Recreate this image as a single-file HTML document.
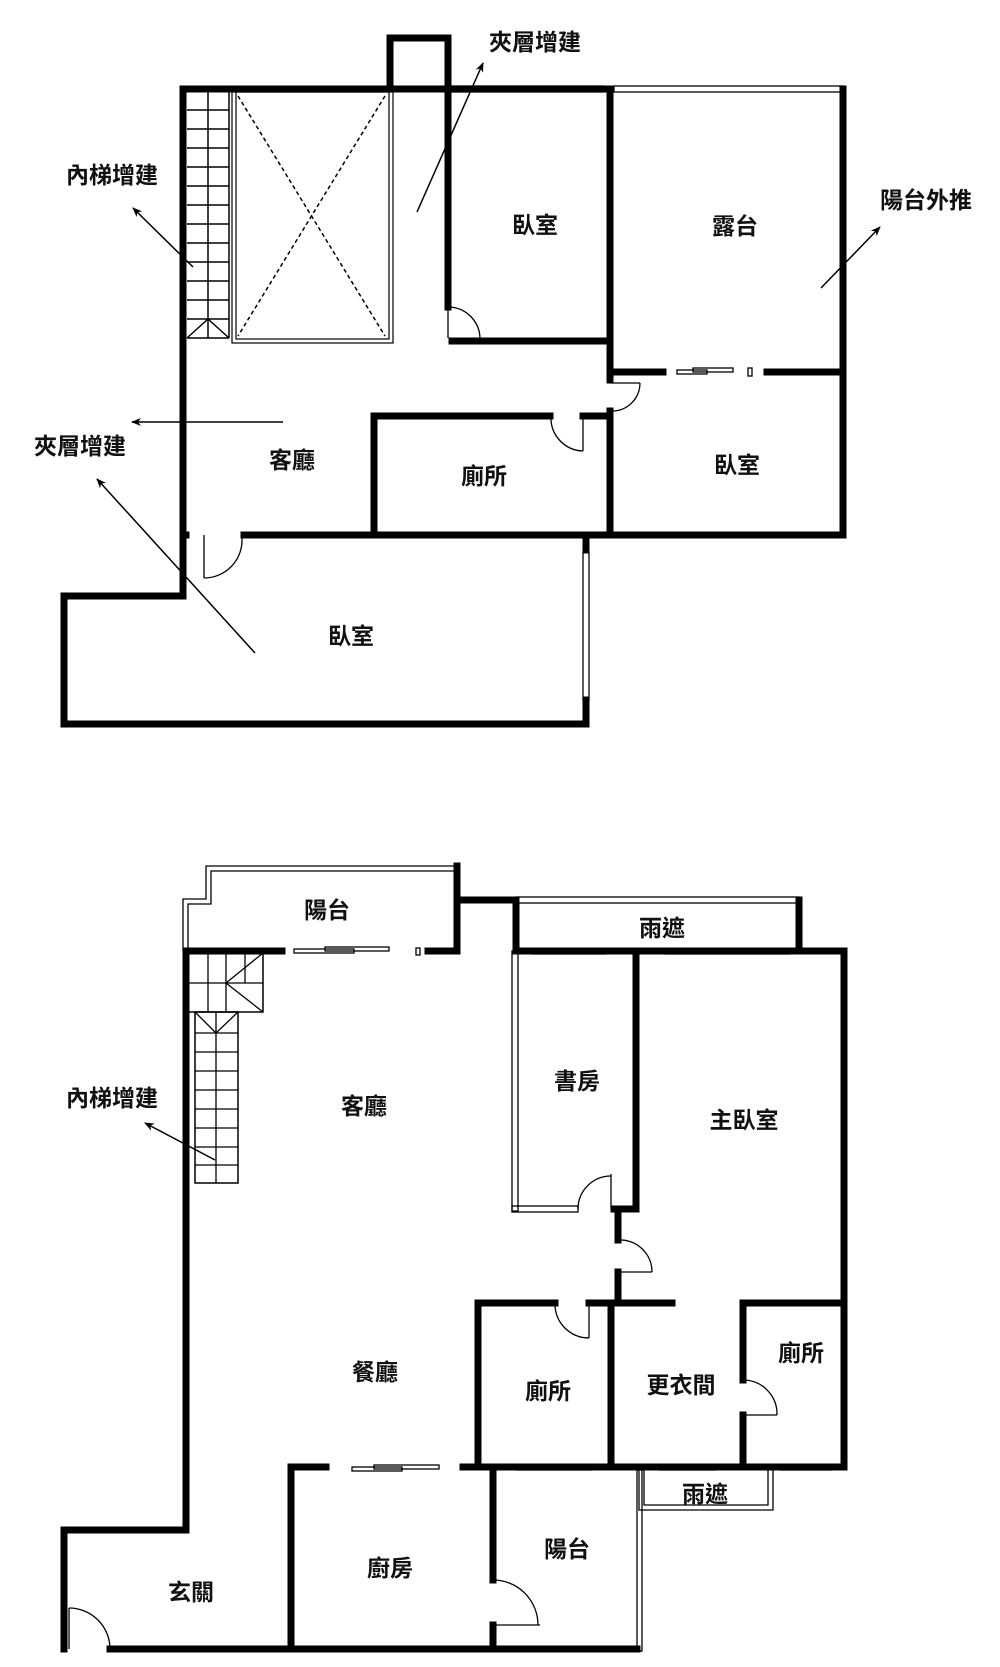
<!DOCTYPE html>
<html><head><meta charset="utf-8"><style>
html,body{margin:0;padding:0;background:#fff;}
svg{display:block;}
text{font-family:"Liberation Sans","Noto Sans CJK TC",sans-serif;font-weight:bold;font-size:23px;fill:#111;text-anchor:middle;dominant-baseline:central;}
</style></head><body>
<svg width="1000" height="1667" viewBox="0 0 1000 1667" xmlns="http://www.w3.org/2000/svg">
<defs>
<marker id="ah" markerWidth="10" markerHeight="8" refX="9" refY="4" orient="auto" markerUnits="userSpaceOnUse">
<path d="M0,0 L10,4 L0,8 L3,4 z" fill="#000"/></marker>
</defs>

<!-- ===== TOP PLAN ===== -->
<g stroke="#000" stroke-width="3" fill="none">
<line x1="208" y1="91" x2="208" y2="338" stroke-width="1.5"/>
<line x1="229" y1="91" x2="229" y2="338" stroke-width="1.5"/>
<g stroke-width="1.5">
<line x1="187" y1="110" x2="229" y2="110"/><line x1="187" y1="129" x2="229" y2="129"/>
<line x1="187" y1="148" x2="229" y2="148"/><line x1="187" y1="167" x2="229" y2="167"/>
<line x1="187" y1="186" x2="229" y2="186"/><line x1="187" y1="205" x2="229" y2="205"/>
<line x1="187" y1="224" x2="229" y2="224"/><line x1="187" y1="243" x2="229" y2="243"/>
<line x1="187" y1="262" x2="229" y2="262"/><line x1="187" y1="281" x2="229" y2="281"/>
<line x1="187" y1="300" x2="229" y2="300"/><line x1="187" y1="319" x2="229" y2="319"/>
<line x1="187" y1="338" x2="229" y2="338"/>
<line x1="187" y1="338" x2="208" y2="319"/><line x1="229" y1="338" x2="208" y2="319"/>
</g>
<rect x="232" y="92" width="161" height="251" stroke-width="1.2"/>
<rect x="236" y="92" width="153" height="247" stroke-width="1.2"/>
<line x1="238" y1="96" x2="385" y2="336" stroke-width="1.5" stroke-dasharray="4,3"/>
<line x1="385" y1="96" x2="238" y2="336" stroke-width="1.5" stroke-dasharray="4,3"/>
</g>

<g stroke="#000" stroke-width="7" fill="none" stroke-linecap="square">
<polyline points="448,89 183,89 183,596 64,596 64,724 586,724 586,700"/>
<line x1="586" y1="535" x2="586" y2="550"/>
<polyline points="390,89 390,38 448,38 448,307"/>
<line x1="448" y1="89" x2="604" y2="89"/>
<line x1="843" y1="89" x2="843" y2="535"/>
<line x1="610" y1="89" x2="610" y2="380"/>
<line x1="610" y1="411" x2="610" y2="535"/>
<line x1="452" y1="341" x2="606" y2="341"/>
<line x1="610" y1="372" x2="663" y2="372"/>
<line x1="767" y1="372" x2="840" y2="372"/>
<polyline points="374,535 374,416 550,416"/>
<line x1="583" y1="416" x2="606" y2="416"/>
<line x1="183" y1="535" x2="186" y2="535"/>
<line x1="244" y1="535" x2="843" y2="535"/>
</g>
<g stroke="#000" fill="none" stroke-width="1.3">
<rect x="452" y="86" width="152" height="6"/>
<rect x="614" y="86" width="229" height="6"/>
<line x1="604" y1="86" x2="604" y2="92"/>
<rect x="583" y="552" width="6" height="148"/>
<rect x="677" y="370" width="30" height="4"/><rect x="693" y="368" width="40" height="4"/>
<rect x="748" y="368" width="4" height="8"/>
<line x1="448" y1="307" x2="448" y2="338"/><path d="M448,307 A32,32 0 0 1 480,339"/>
<line x1="610" y1="383" x2="640" y2="383"/><path d="M640,383 A28,28 0 0 1 612,411"/>
<line x1="583" y1="416" x2="583" y2="451"/><path d="M551,417 A33,33 0 0 0 583,451"/>
<line x1="204" y1="535" x2="204" y2="578"/><path d="M204,578 A38,38 0 0 0 242,538"/>
</g>

<g stroke="#000" stroke-width="1.5" marker-end="url(#ah)">
<line x1="193" y1="267" x2="133" y2="208"/>
<line x1="417" y1="212" x2="483" y2="63"/>
<line x1="821" y1="288" x2="880" y2="227"/>
<line x1="283" y1="422" x2="132" y2="422"/>
<line x1="255" y1="653" x2="97" y2="479"/>
</g>
<text x="112" y="175">內梯增建</text>
<text x="535" y="42">夾層增建</text>
<text x="926" y="200">陽台外推</text>
<text x="535" y="225">臥室</text>
<text x="735" y="226">露台</text>
<text x="292" y="460">客廳</text>
<text x="484" y="476">廁所</text>
<text x="737" y="465">臥室</text>
<text x="80" y="446">夾層增建</text>
<text x="351" y="636">臥室</text>

<!-- ===== BOTTOM PLAN ===== -->
<g stroke="#000" fill="none" stroke-width="1.3">
<polyline points="183,951 183,899 206,899 206,866 457,866"/>
<polyline points="188,951 188,904 211,904 211,871 457,871"/>
<rect x="294" y="949" width="60" height="4"/><rect x="325" y="947" width="64" height="4"/>
<rect x="416" y="948" width="4" height="7"/>
<rect x="188" y="953" width="75" height="59" stroke-width="1.5"/>
<line x1="208" y1="953" x2="208" y2="1012"/><line x1="226" y1="953" x2="226" y2="1012"/><line x1="245" y1="953" x2="245" y2="983"/>
<line x1="188" y1="983" x2="263" y2="983"/>
<line x1="226" y1="983" x2="263" y2="953"/><line x1="226" y1="983" x2="263" y2="1012"/>
<rect x="195" y="1012" width="43" height="171" stroke-width="1.5"/>
<line x1="216" y1="1012" x2="216" y2="1183"/>
<line x1="195" y1="1012" x2="216" y2="1033"/><line x1="238" y1="1012" x2="216" y2="1033"/>
<line x1="195" y1="1033" x2="238" y2="1033"/><line x1="195" y1="1052" x2="238" y2="1052"/>
<line x1="195" y1="1071" x2="238" y2="1071"/><line x1="195" y1="1090" x2="238" y2="1090"/>
<line x1="195" y1="1109" x2="238" y2="1109"/><line x1="195" y1="1128" x2="238" y2="1128"/>
<line x1="195" y1="1147" x2="238" y2="1147"/><line x1="195" y1="1165" x2="238" y2="1165"/>
<rect x="516" y="897" width="283" height="6"/>
<rect x="532" y="949" width="74" height="5"/><rect x="665" y="949" width="125" height="5"/>
<rect x="512" y="951" width="6" height="260"/>
<rect x="512" y="1206" width="66" height="6"/>
<line x1="611" y1="1174" x2="611" y2="1209"/><path d="M578,1209 A33,33 0 0 1 611,1176"/>
<line x1="618" y1="1272" x2="652" y2="1272"/><path d="M618,1240 A32,32 0 0 1 652,1272"/>
<line x1="589" y1="1303" x2="589" y2="1338"/><path d="M555,1305 A34,34 0 0 0 589,1338"/>
<line x1="743" y1="1415" x2="777" y2="1415"/><path d="M743,1380 A34,34 0 0 1 777,1415"/>
<rect x="517" y="1465" width="75" height="5"/><rect x="659" y="1465" width="56" height="5"/><rect x="780" y="1465" width="52" height="5"/>
<rect x="352" y="1467" width="50" height="4"/><rect x="374" y="1465" width="65" height="4"/>
<polyline points="639,1470 639,1510 773,1510 773,1470"/>
<polyline points="644,1470 644,1505 768,1505 768,1470"/>
<rect x="637" y="1470" width="5" height="181"/>
<line x1="493" y1="1625" x2="540" y2="1625"/><path d="M493,1580 A45,45 0 0 1 538,1625"/>
<line x1="69" y1="1608" x2="69" y2="1649"/><path d="M69,1608 A41,41 0 0 1 110,1649"/>
</g>
<g stroke="#000" stroke-width="7" fill="none" stroke-linecap="square">
<polyline points="186,1013 186,1530 64,1530 64,1649"/>
<line x1="186" y1="951" x2="186" y2="1010"/>
<line x1="186" y1="951" x2="282" y2="951"/>
<polyline points="428,951 457,951 457,866"/>
<polyline points="457,900 516,900 516,951"/>
<line x1="516" y1="951" x2="844" y2="951"/>
<polyline points="799,900 799,951 844,951 844,1467"/>
<polyline points="636,951 636,1209 614,1209"/>
<line x1="618" y1="1209" x2="618" y2="1240"/>
<line x1="618" y1="1272" x2="618" y2="1303"/>
<line x1="478" y1="1303" x2="555" y2="1303"/>
<line x1="589" y1="1303" x2="672" y2="1303"/>
<line x1="743" y1="1303" x2="844" y2="1303"/>
<line x1="478" y1="1303" x2="478" y2="1467"/>
<line x1="611" y1="1303" x2="611" y2="1467"/>
<line x1="743" y1="1303" x2="743" y2="1380"/>
<line x1="743" y1="1415" x2="743" y2="1467"/>
<line x1="463" y1="1467" x2="844" y2="1467"/>
<polyline points="326,1467 291,1467 291,1649"/>
<line x1="493" y1="1467" x2="493" y2="1580"/>
<line x1="493" y1="1625" x2="493" y2="1649"/>
<line x1="110" y1="1649" x2="637" y2="1649"/>
</g>
<g stroke="#000" stroke-width="1.5" marker-end="url(#ah)">
<line x1="215" y1="1160" x2="145" y2="1123"/>
</g>
<text x="327" y="910">陽台</text>
<text x="662" y="928">雨遮</text>
<text x="577" y="1081">書房</text>
<text x="364" y="1106">客廳</text>
<text x="744" y="1120">主臥室</text>
<text x="112" y="1098">內梯增建</text>
<text x="375" y="1372">餐廳</text>
<text x="548" y="1391">廁所</text>
<text x="681" y="1385">更衣間</text>
<text x="801" y="1353">廁所</text>
<text x="705" y="1494">雨遮</text>
<text x="567" y="1549">陽台</text>
<text x="390" y="1568">廚房</text>
<text x="191" y="1592">玄關</text>
</svg>
</body></html>
